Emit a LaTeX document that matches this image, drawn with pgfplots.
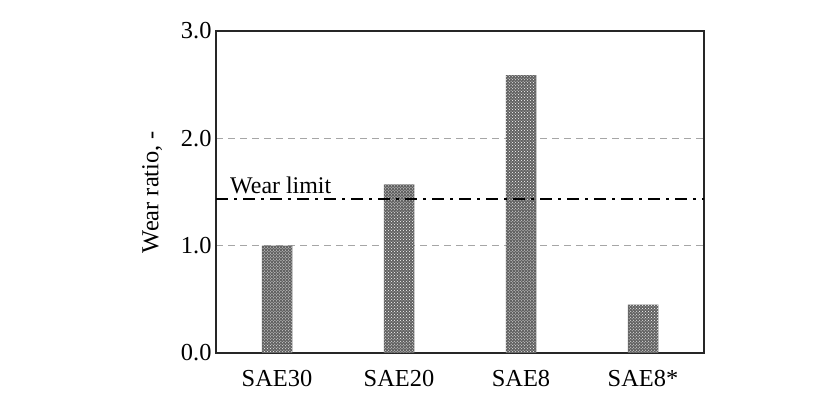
\documentclass[border=0pt]{standalone}
\usepackage{pgfplots}
\pgfplotsset{compat=1.18}
\usepackage{fontspec}
\setmainfont{Liberation Serif}
\usetikzlibrary{patterns}
\begin{document}
\begin{tikzpicture}[x=1bp,y=1bp]
\begin{axis}[
  at={(216bp,57bp)}, anchor=south west,
  scale only axis, width=488bp, height=322bp,
  xmin=-0.5, xmax=3.5, ymin=0, ymax=3,
  xtick={0,1,2,3}, xticklabels={SAE30,SAE20,SAE8,SAE8*},
  ytick={0,1,2,3},
  yticklabel style={/pgf/number format/fixed, /pgf/number format/fixed zerofill, /pgf/number format/precision=1, xshift=-1bp},
  /pgf/number format/assume math mode=true,
  major tick length=0pt,
  ymajorgrids, grid style={gray!70, line width=1bp, dash pattern=on 7bp off 5bp},
  axis line style={line width=1.6bp, black!85},
  tick label style={font=\fontsize{24.5}{28}\selectfont},
  xticklabel style={yshift=-14bp},
  ylabel={Wear ratio, -},
  ylabel style={font=\fontsize{24.5}{28}\selectfont, yshift=12bp},
]
\addplot[ybar, bar width=0.25, draw=none, fill=black!62,
  postaction={pattern=crosshatch dots, pattern color=white}]
  coordinates {(0,1.0) (1,1.57) (2,2.59) (3,0.45)};
\addplot[black, line width=2.6bp, dash pattern=on 12bp off 6bp on 3bp off 6bp]
  coordinates {(-0.5,1.435) (3.5,1.435)};
\node[anchor=base west, font=\fontsize{24}{28}\selectfont, inner sep=0pt] at (axis cs:-0.385,1.49) {Wear limit};
\end{axis}
\pgfresetboundingbox
\path (0,0) rectangle (838bp,410bp);
\end{tikzpicture}
\end{document}
